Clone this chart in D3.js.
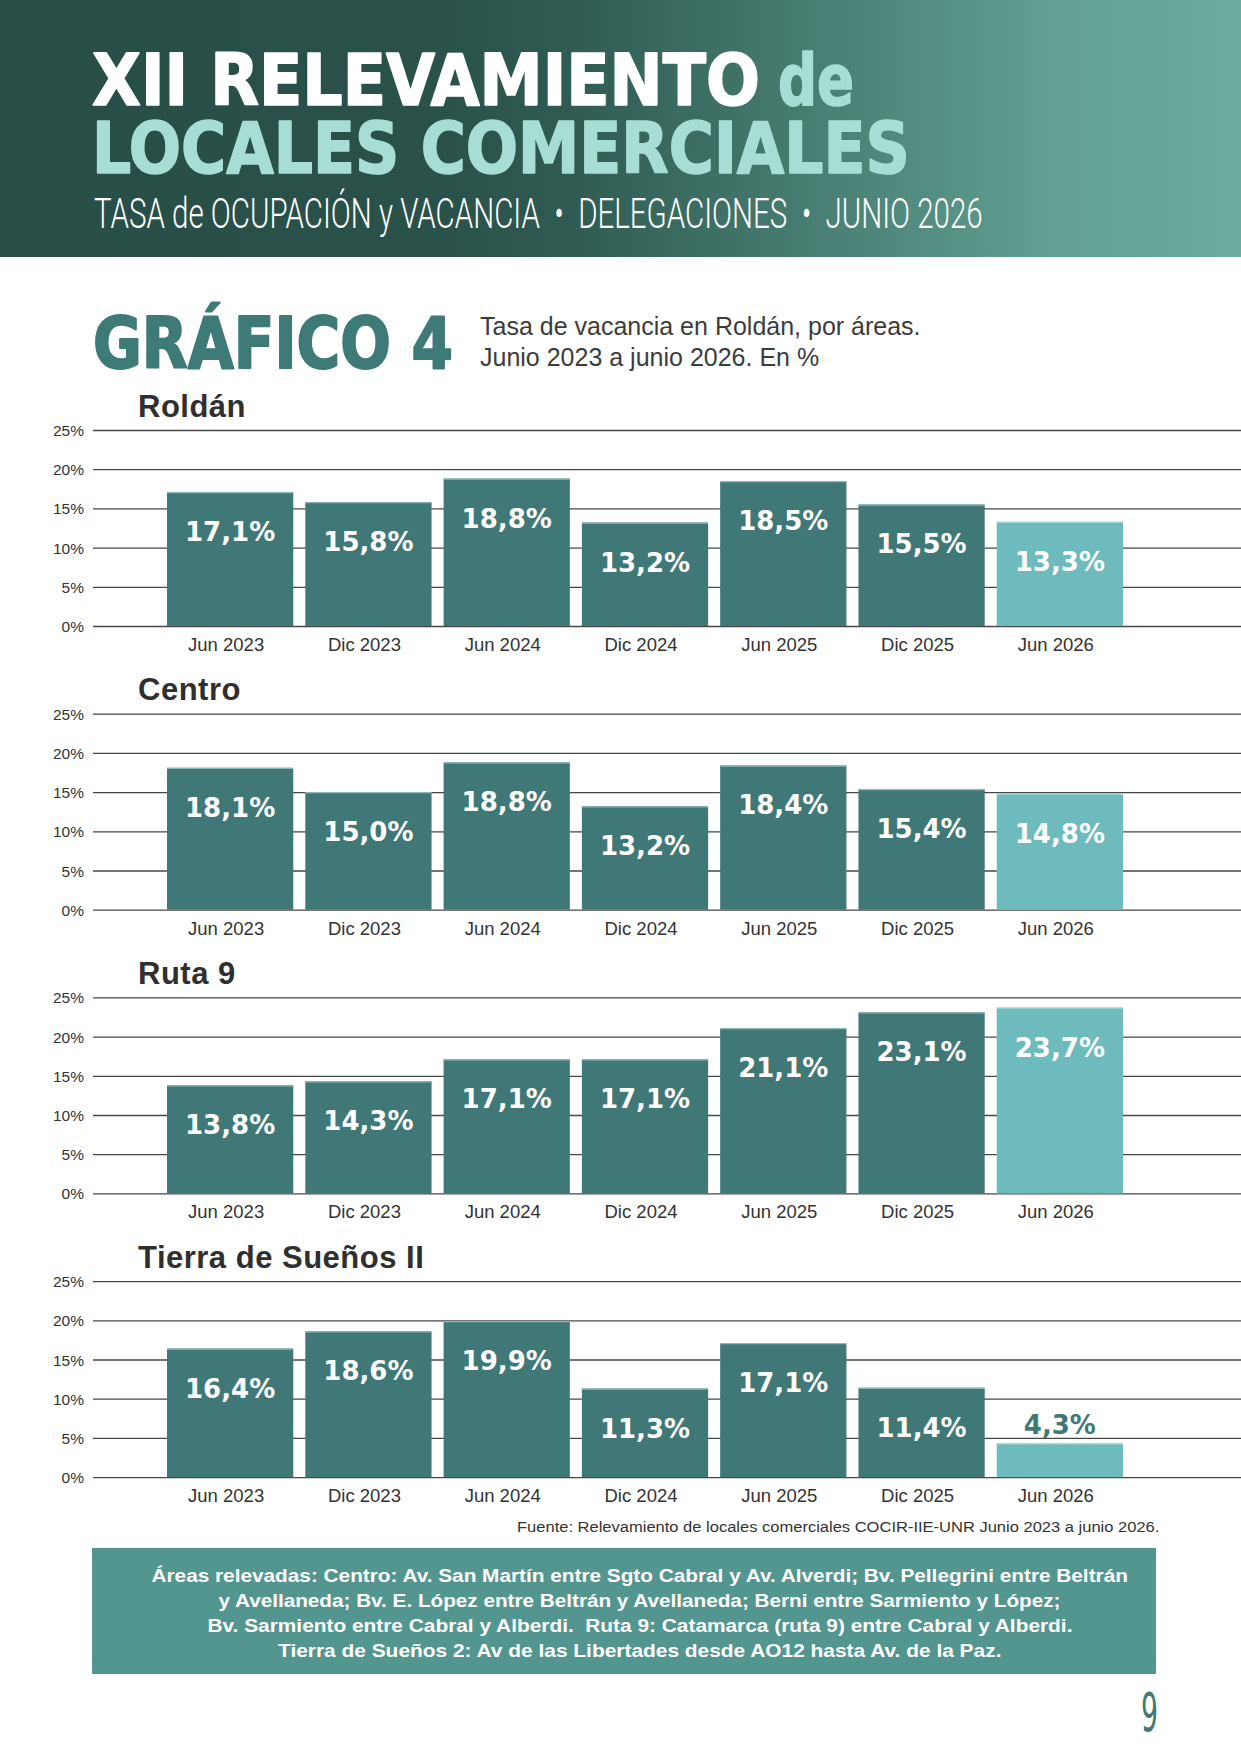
<!DOCTYPE html>
<html>
<head>
<meta charset="utf-8">
<script src="https://cdn.jsdelivr.net/npm/d3@7"></script>
<style>
  html, body { margin: 0; padding: 0; background: #fff; }
  svg { display: block; }
</style>
</head>
<body>
<svg id="page" width="1241" height="1754"></svg>
<script>
// ---------- DATA ----------
const categories = ["Jun 2023", "Dic 2023", "Jun 2024", "Dic 2024", "Jun 2025", "Dic 2025", "Jun 2026"];
const areaNames = ["Roldán", "Centro", "Ruta 9", "Tierra de Sueños II"];
const roldanValues = [17.1, 15.8, 18.8, 13.2, 18.5, 15.5, 13.3];
const centroValues = [18.1, 15.0, 18.8, 13.2, 18.4, 15.4, 14.8];
const ruta9Values = [13.8, 14.3, 17.1, 17.1, 21.1, 23.1, 23.7];
const tierraValues = [16.4, 18.6, 19.9, 11.3, 17.1, 11.4, 4.3];
const yTickValues = [0, 5, 10, 15, 20, 25];
const footnoteLines = [
  "Áreas relevadas: Centro: Av. San Martín entre Sgto Cabral y Av. Alverdi; Bv. Pellegrini entre Beltrán",
  "y Avellaneda; Bv. E. López entre Beltrán y Avellaneda; Berni entre Sarmiento y López;",
  "Bv. Sarmiento entre Cabral y Alberdi.  Ruta 9: Catamarca (ruta 9) entre Cabral y Alberdi.",
  "Tierra de Sueños 2: Av de las Libertades desde AO12 hasta Av. de la Paz."
];
const sourceText = "Fuente: Relevamiento de locales comerciales COCIR-IIE-UNR Junio 2023 a junio 2026.";

const panels = [
  { name: areaNames[0], values: roldanValues },
  { name: areaNames[1], values: centroValues },
  { name: areaNames[2], values: ruta9Values },
  { name: areaNames[3], values: tierraValues }
];

// ---------- STYLE ----------
const DARK = "#3f7877";
const LIGHT = "#6dbbbc";
const TEAL_TEXT = "#3e7a76";
const condensedBold = "'DejaVu Sans Condensed', 'Liberation Sans Narrow', 'DejaVu Sans', sans-serif";
const helv = "'Liberation Sans', Arial, Helvetica, sans-serif";

const svg = d3.select("#page");
const fmt = d3.formatLocale({ decimal: ",", thousands: ".", grouping: [3], currency: ["", ""] }).format(".1f");

// Place a text so that it spans [x0, x0+width] exactly, by horizontal scaling.
function fitText(sel, x0, baseline, width) {
  sel.attr("x", 0).attr("y", 0).attr("text-anchor", "start");
  const w = sel.node().getComputedTextLength();
  sel.attr("transform", `translate(${x0},${baseline}) scale(${width / w},1)`);
  return sel;
}

// ---------- HEADER ----------
const defs = svg.append("defs");
const grad = defs.append("linearGradient").attr("id", "hdr").attr("x1", "0").attr("x2", "1").attr("y1", "0").attr("y2", "0");
[[0, "#284e46"], [0.36, "#2a524a"], [0.46, "#2f5b52"], [0.85, "#61a093"], [1, "#6cada1"]]
  .forEach(([o, c]) => grad.append("stop").attr("offset", o).attr("stop-color", c));

svg.append("rect").attr("x", 0).attr("y", 0).attr("width", 1241).attr("height", 257).attr("fill", "url(#hdr)");

const titleFont = (s, size, fill, sw) => s.attr("font-family", condensedBold).attr("font-weight", "bold")
  .attr("font-size", size).attr("fill", fill)
  .attr("stroke", fill).attr("stroke-width", sw).attr("stroke-linejoin", "round");

fitText(titleFont(svg.append("text"), 72, "#ffffff", 1.6).text("XII RELEVAMIENTO"), 92, 105, 668);
fitText(titleFont(svg.append("text"), 72, "#a8ddd5", 1.6).text("de"), 778, 105, 76);
fitText(titleFont(svg.append("text"), 72, "#a8ddd5", 1.6).text("LOCALES COMERCIALES"), 92, 173, 818);

fitText(svg.append("text")
  .attr("font-family", "Roboto, 'Liberation Sans', sans-serif").attr("font-weight", 300)
  .attr("font-size", 42).attr("fill", "#ffffff")
  .style("white-space", "pre")
  .text("TASA de OCUPACIÓN y VACANCIA  •  DELEGACIONES  •  JUNIO 2026"), 94, 228, 889);

// ---------- CHART TITLE ----------
fitText(titleFont(svg.append("text"), 72, TEAL_TEXT, 2).text("GRÁFICO 4"), 93, 368, 360);

svg.append("text").attr("x", 480).attr("y", 335)
  .attr("font-family", helv).attr("font-size", 25).attr("fill", "#3c3c3c")
  .text("Tasa de vacancia en Roldán, por áreas.");
svg.append("text").attr("x", 480).attr("y", 366)
  .attr("font-family", helv).attr("font-size", 25).attr("fill", "#3c3c3c")
  .text("Junio 2023 a junio 2026. En %");

// ---------- PANELS ----------
const x = d3.scaleBand().domain(categories).range([161, 1129]).paddingInner(0.087).paddingOuter(0.0435);
const panelTop0 = 430, panelStep = 283.7, panelH = 196;

panels.forEach((p, i) => {
  const top = panelTop0 + panelStep * i;
  const base = top + panelH;
  const y = d3.scaleLinear().domain([0, 25]).range([base, top]);
  const g = svg.append("g");

  // title
  g.append("text").attr("x", 138).attr("y", top - 13.5)
    .attr("font-family", helv).attr("font-weight", "bold").attr("font-size", 31)
    .attr("letter-spacing", 0.5).attr("fill", "#2f2f2f").text(p.name);

  // y axis with gridlines
  const yAxis = d3.axisLeft(y).tickValues(yTickValues).tickSize(-(1241 - 93)).tickPadding(9)
    .tickFormat(d => d + "%");
  const ag = g.append("g").attr("transform", "translate(93,0)").call(yAxis);
  ag.select(".domain").remove();
  ag.selectAll(".tick line").attr("stroke", "#474747").attr("stroke-width", 1.3);
  ag.selectAll(".tick text").attr("font-family", helv).attr("font-size", 15.5).attr("fill", "#333")
    .attr("dy", "0.36em");

  // bars
  g.selectAll("rect.bar").data(p.values).join("rect").attr("class", "bar")
    .attr("x", (d, j) => x(categories[j]))
    .attr("width", x.bandwidth())
    .attr("y", d => y(d))
    .attr("height", d => base - y(d))
    .attr("fill", (d, j) => j === categories.length - 1 ? LIGHT : DARK);
  g.selectAll("line.cap").data(p.values).join("line").attr("class", "cap")
    .attr("x1", (d, j) => x(categories[j]))
    .attr("x2", (d, j) => x(categories[j]) + x.bandwidth())
    .attr("y1", d => y(d) + 0.6).attr("y2", d => y(d) + 0.6)
    .attr("stroke", (d, j) => j === categories.length - 1 ? "#a9d9d9" : "#8fb8b5")
    .attr("stroke-width", 1.2);

  // value labels
  g.selectAll("text.val").data(p.values).join("text").attr("class", "val")
    .attr("x", (d, j) => x(categories[j]) + x.bandwidth() / 2)
    .attr("y", d => d < 8 ? y(d) - 9 : y(d) + 49)
    .attr("text-anchor", "middle")
    .attr("font-family", "'DejaVu Sans', Verdana, sans-serif").attr("font-weight", "bold").attr("font-size", 26)
    .attr("fill", d => d < 8 ? DARK : "#ffffff")
    .text(d => fmt(d) + "%");

  // x labels
  g.selectAll("text.cat").data(categories).join("text").attr("class", "cat")
    .attr("x", d => x(d) + x.bandwidth() / 2 - 4)
    .attr("y", base + 25)
    .attr("text-anchor", "middle")
    .attr("font-family", helv).attr("font-size", 18.5).attr("fill", "#333")
    .text(d => d);
});

// ---------- SOURCE ----------
fitText(svg.append("text")
  .attr("font-family", helv).attr("font-size", 15).attr("fill", "#333")
  .text(sourceText), 517, 1532, 643);

// ---------- NOTE BOX ----------
svg.append("rect").attr("x", 92).attr("y", 1548).attr("width", 1064).attr("height", 126).attr("fill", "#53968f");
const lineWidths = [977, 843, 865, 724];
const lineBaselines = [1582, 1607, 1632, 1657];
const noteCenter = 640;
footnoteLines.forEach((t, k) => {
  fitText(svg.append("text")
    .attr("font-family", helv).attr("font-weight", "bold").attr("font-size", 17.5).attr("fill", "#ffffff")
    .style("white-space", "pre")
    .text(t), noteCenter - lineWidths[k] / 2, lineBaselines[k], lineWidths[k]);
});

// ---------- PAGE NUMBER ----------
fitText(svg.append("text")
  .attr("font-family", "'DejaVu Sans Condensed', 'Liberation Sans', sans-serif")
  .attr("font-size", 54).attr("fill", TEAL_TEXT)
  .text("9"), 1141, 1731, 17);
</script>
</body>
</html>
